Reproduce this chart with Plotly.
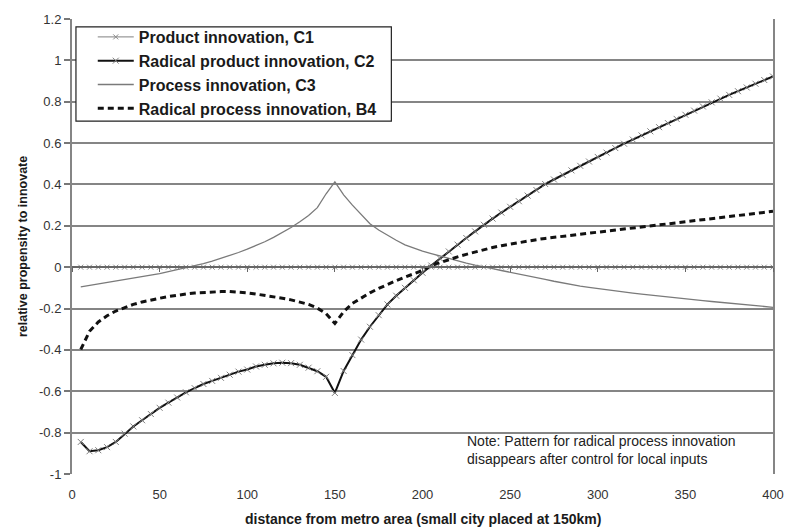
import plotly.graph_objects as go

distance_km = list(range(5, 405, 5))

product_c1 = [0.0] * 80

radical_product_c2 = [
    -0.845, -0.89, -0.885, -0.87, -0.845, -0.805, -0.77, -0.74, -0.71, -0.68,
    -0.655, -0.63, -0.605, -0.585, -0.565, -0.55, -0.535, -0.52, -0.505, -0.495,
    -0.48, -0.472, -0.465, -0.462, -0.464, -0.472, -0.486, -0.503, -0.53, -0.608,
    -0.502, -0.425, -0.35, -0.288, -0.232, -0.18, -0.138, -0.1, -0.063, -0.027,
    0.008, 0.042, 0.076, 0.109, 0.141, 0.173, 0.205, 0.235, 0.264, 0.292,
    0.319, 0.346, 0.373, 0.402, 0.424, 0.446, 0.468, 0.49, 0.511, 0.533,
    0.554, 0.576, 0.597, 0.617, 0.637, 0.657, 0.677, 0.697, 0.717, 0.737,
    0.757, 0.777, 0.797, 0.815, 0.833, 0.851, 0.869, 0.887, 0.905, 0.922,
]

process_c3 = [
    -0.095, -0.088, -0.082, -0.076, -0.069, -0.062, -0.055, -0.048, -0.04, -0.031,
    -0.022, -0.013, -0.004, 0.006, 0.017, 0.029, 0.042, 0.056, 0.071, 0.087,
    0.104, 0.123, 0.144, 0.167, 0.192, 0.22, 0.25, 0.288, 0.355, 0.412,
    0.35, 0.3, 0.255, 0.21, 0.18, 0.153, 0.13, 0.108, 0.092, 0.078,
    0.066, 0.054, 0.042, 0.031, 0.02, 0.01, 0.0, -0.007, -0.016, -0.024,
    -0.033, -0.042, -0.05, -0.059, -0.068, -0.077, -0.086, -0.092, -0.098, -0.104,
    -0.109, -0.114, -0.12, -0.125, -0.13, -0.135, -0.14, -0.145, -0.15, -0.154,
    -0.158, -0.162, -0.166, -0.17, -0.174, -0.178, -0.182, -0.186, -0.19, -0.194,
]

radical_process_b4 = [
    -0.398, -0.31, -0.265, -0.235, -0.212, -0.195, -0.18, -0.168, -0.158, -0.15,
    -0.142, -0.135, -0.13, -0.125, -0.122, -0.12, -0.118, -0.118, -0.12, -0.124,
    -0.13, -0.136, -0.143, -0.15, -0.158, -0.168, -0.18, -0.198, -0.225, -0.272,
    -0.215, -0.175, -0.148, -0.124, -0.103, -0.083, -0.065, -0.048, -0.032, -0.016,
    0.008, 0.023, 0.037, 0.05, 0.062, 0.074, 0.085, 0.095, 0.104, 0.112,
    0.12, 0.127, 0.133, 0.139, 0.144, 0.149, 0.154, 0.159, 0.164, 0.169,
    0.174, 0.179, 0.185, 0.19, 0.195, 0.201, 0.206, 0.212, 0.217, 0.222,
    0.227, 0.232, 0.237, 0.242, 0.247, 0.252, 0.257, 0.261, 0.266, 0.27,
]

x_ticks = [0, 50, 100, 150, 200, 250, 300, 350, 400]
y_ticks = [-1, -0.8, -0.6, -0.4, -0.2, 0, 0.2, 0.4, 0.6, 0.8, 1, 1.2]
y_tick_text = ["-1", "-0.8", "-0.6", "-0.4", "-0.2", "0", "0.2", "0.4", "0.6", "0.8", "1", "1.2"]

names = [
    "Product innovation, C1",
    "Radical product innovation, C2",
    "Process innovation, C3",
    "Radical process innovation, B4",
]

FONT = "Liberation Sans, Arial, sans-serif"

fig = go.Figure()

fig.add_trace(go.Scatter(
    x=distance_km, y=product_c1, name=names[0], mode="lines+markers",
    xaxis="x2", yaxis="y", legendgroup="a",
    line=dict(color="#808080", width=1),
    marker=dict(symbol="x-thin", size=5, line=dict(color="#8a8a8a", width=1)),
))
fig.add_trace(go.Scatter(
    x=distance_km, y=radical_product_c2, name=names[1], mode="lines+markers",
    legendgroup="b",
    line=dict(color="#111111", width=2),
    marker=dict(symbol="x-thin", size=6, line=dict(color="#808080", width=1)),
))
fig.add_trace(go.Scatter(
    x=distance_km, y=process_c3, name=names[2], mode="lines",
    legendgroup="c",
    line=dict(color="#7a7a7a", width=1.3),
))
fig.add_trace(go.Scatter(
    x=distance_km, y=radical_process_b4, name=names[3], mode="lines",
    legendgroup="d",
    line=dict(color="#111111", width=3, dash="6px,4px"),
))

W, H = 796, 529
ml, mr, mt, mb = 72, 15, 15, 55
pw, ph = W - ml - mr, H - mt - mb

def px_x(p):
    return (p - ml) / pw

def px_y(p):
    return (H - mb - p) / ph

fig.update_layout(
    width=W, height=H,
    margin=dict(l=ml, r=mr, t=mt, b=mb, pad=0),
    paper_bgcolor="white", plot_bgcolor="white",
    font=dict(family=FONT, color="#222222", size=13),
    showlegend=True,
    legend=dict(
        x=px_x(93), y=px_y(16), xanchor="left", yanchor="top",
        bgcolor="rgba(0,0,0,0)", borderwidth=0,
        font=dict(family=FONT, size=16, color="#1a1a1a", weight="bold"),
        tracegroupgap=0, itemwidth=36,
    ),
    xaxis=dict(
        range=[0, 400], tickvals=x_ticks, showgrid=False, zeroline=False,
        showline=False, ticks="outside", ticklen=8, tickcolor="rgba(0,0,0,0)",
        tickfont=dict(size=13, color="#333333"),
    ),
    xaxis2=dict(
        range=[0, 400], overlaying="x", anchor="free", position=1 / 2.2,
        side="bottom", tickvals=x_ticks, showticklabels=False, showgrid=False,
        zeroline=False, showline=True, linecolor="#666666", linewidth=1.5,
        ticks="outside", ticklen=4, tickcolor="#666666", tickwidth=1.2,
    ),
    yaxis=dict(
        range=[-1, 1.2], tickvals=y_ticks, ticktext=y_tick_text,
        showgrid=True, gridcolor="#858585", gridwidth=1.6, zeroline=False,
        showline=True, linecolor="#858585", linewidth=2, mirror=True,
        ticks="outside", ticklen=6, tickcolor="#777777", tickwidth=1.5,
        tickfont=dict(size=13, color="#333333"),
    ),
    shapes=[dict(
        type="rect", xref="paper", yref="paper", layer="above",
        x0=px_x(76), x1=px_x(395), y0=px_y(118), y1=px_y(23),
        line=dict(color="#222222", width=1.2), fillcolor="white",
    )],
    annotations=[
        dict(
            text="distance from metro area (small city placed at 150km)",
            xref="paper", yref="paper", x=0.5, y=px_y(519),
            xanchor="center", yanchor="middle", showarrow=False,
            font=dict(family=FONT, size=14, color="#1a1a1a", weight="bold"),
        ),
        dict(
            text="relative propensity to innovate",
            xref="paper", yref="paper", x=px_x(22), y=0.5, textangle=-90,
            xanchor="center", yanchor="middle", showarrow=False,
            font=dict(family=FONT, size=12.5, color="#1a1a1a", weight="bold"),
        ),
        dict(
            text="Note: Pattern for radical process innovation<br>disappears after control for local inputs",
            xref="paper", yref="paper", x=px_x(469), y=px_y(449.5),
            xanchor="left", yanchor="middle", align="left", showarrow=False,
            font=dict(family=FONT, size=14, color="#222222"),
        ),
    ],
)

fig.write_html("out.html")
